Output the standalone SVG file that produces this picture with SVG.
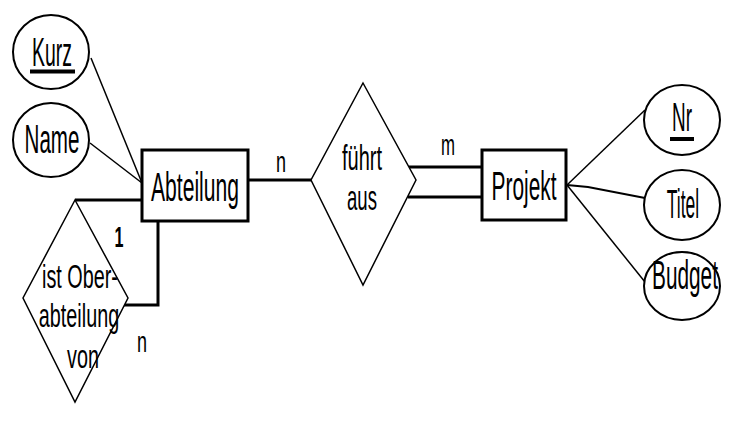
<svg xmlns="http://www.w3.org/2000/svg" width="730" height="422" viewBox="0 0 730 422">
<style>
.bg{fill:#fff}
.ent{fill:#fff;stroke:#000;stroke-width:3}
.rel{fill:#fff;stroke:#000;stroke-width:1.5}
.att{fill:#fff;stroke:#000;stroke-width:2}
.thin{fill:none;stroke:#000;stroke-width:1.5}
.thick{fill:none;stroke:#000;stroke-width:3}
.ul{stroke:#000;stroke-width:4}
text{font-family:"Liberation Sans",Arial,sans-serif;fill:#000;text-anchor:middle}
.big{font-size:40px}
.rtx{font-size:35px}
.mid{font-size:33px}
.card{font-size:30px}
</style>
<rect class="bg" x="0" y="0" width="730" height="422"/>
<g id="connectors">
<line class="thin" x1="91" y1="58" x2="142" y2="183"/>
<line class="thin" x1="90" y1="143" x2="142" y2="183"/>
<line class="thick" x1="248" y1="180" x2="311" y2="180"/>
<line class="thick" x1="409" y1="167" x2="482" y2="167"/>
<line class="thick" x1="408" y1="197" x2="482" y2="197"/>
<line class="thin" x1="567" y1="185" x2="645" y2="110"/>
<polyline class="thin" style="stroke-width:2" points="567,185 588,187 645,198"/>
<line class="thin" x1="567" y1="185" x2="645" y2="282"/>
<line class="thick" x1="75" y1="200" x2="142" y2="200"/>
<polyline class="thick" points="124,305 158,305 158,222"/>
</g>
<g id="kurz">
<ellipse class="att" cx="51" cy="52" rx="38" ry="37"/>
<text class="big" transform="translate(52,66) scale(0.486,1)">Kurz</text>
<line class="ul" x1="30" y1="71.5" x2="75" y2="71.5"/>
</g>
<g id="name">
<ellipse class="att" cx="51" cy="140" rx="38" ry="37"/>
<text class="big" transform="translate(52,153) scale(0.515,1)">Name</text>
</g>
<g id="abteilung">
<rect class="ent" x="142" y="150" width="106" height="71"/>
<text class="big" transform="translate(195,201) scale(0.528,1)">Abteilung</text>
</g>
<g id="fuehrt-aus">
<polygon class="rel" points="363,83 416,180 363,285 311,180"/>
<text class="rtx" transform="translate(362,170) scale(0.571,1)">führt</text>
<text class="rtx" transform="translate(362,210) scale(0.531,1)">aus</text>
</g>
<g id="projekt">
<rect class="ent" x="482" y="150" width="84" height="70"/>
<text class="big" transform="translate(524,200) scale(0.522,1)">Projekt</text>
</g>
<g id="nr">
<ellipse class="att" cx="682" cy="120" rx="38" ry="35"/>
<text class="big" transform="translate(682,131) scale(0.474,1)">Nr</text>
<line class="ul" x1="670" y1="139" x2="694" y2="139"/>
</g>
<g id="titel">
<ellipse class="att" cx="682" cy="205" rx="38" ry="35"/>
<text class="big" transform="translate(683,218) scale(0.437,1)">Titel</text>
</g>
<g id="budget">
<ellipse class="att" cx="682" cy="286" rx="38" ry="34"/>
<text class="big" transform="translate(685,289) scale(0.52,1)">Budget</text>
</g>
<g id="ist-oberabteilung-von">
<polygon class="rel" points="75,200 128,298 75,402 23,298"/>
<text class="mid" transform="translate(80,288) scale(0.6,1)">ist Ober-</text>
<text class="mid" transform="translate(79,327) scale(0.6,1)">abteilung</text>
<text class="mid" transform="translate(83,368) scale(0.6,1)">von</text>
</g>
<g id="labels">
<text class="card" transform="translate(281,172) scale(0.6,1)">n</text>
<text class="card" transform="translate(448,155) scale(0.56,1)">m</text>
<text class="card" font-weight="bold" transform="translate(119,247) scale(0.54,1)">1</text>
<text class="card" transform="translate(142,352) scale(0.6,1)">n</text>
</g>
</svg>
